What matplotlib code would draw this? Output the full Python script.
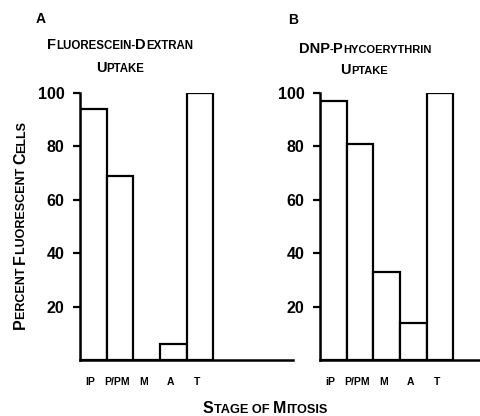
import matplotlib
matplotlib.use("Agg")
import matplotlib.pyplot as plt

# ---- data ----
stages = ["IP", "P/PM", "M", "A", "T"]
stage_labels_a = ["IP", "P/PM", "M", "A", "T"]
stage_labels_b = ["iP", "P/PM", "M", "A", "T"]
values_a = [94, 69, 0, 6, 100]
values_b = [97, 81, 33, 14, 100]
yticks = [20, 40, 60, 80, 100]
title_a = ["Fluorescein-Dextran", "Uptake"]
title_b = ["DNP-Phycoerythrin", "Uptake"]
ylabel = "Percent Fluorescent Cells"
xlabel = "Stage of Mitosis"

FONT = ["Liberation Sans", "DejaVu Sans"]
plt.rcParams["font.family"] = FONT

W, H = 480, 416
fig = plt.figure(figsize=(W / 100, H / 100), dpi=100)


def px(x, y):
    return x / W, 1 - y / H


ax_h = (360 - 93) / H
ax_w = (293 - 80) / W
axA = fig.add_axes([80 / W, 1 - 360 / H, ax_w, ax_h])
axB = fig.add_axes([320 / W, 1 - 360 / H, ax_w, ax_h])

for ax, vals, labs in [(axA, values_a, stage_labels_a), (axB, values_b, stage_labels_b)]:
    pos = [i + 0.5 for i in range(len(vals))]
    ax.bar(pos, vals, width=1.0, facecolor="white", edgecolor="black", linewidth=1.6)
    ax.set_xlim(0, 8)
    ax.set_ylim(0, 100)
    for s in ["top", "right"]:
        ax.spines[s].set_visible(False)
    for s in ["left", "bottom"]:
        ax.spines[s].set_linewidth(1.8)
    ax.set_yticks(yticks)
    ax.set_yticklabels([str(t) for t in yticks], fontsize=11.5, fontweight="bold")
    ax.tick_params(axis="y", length=5, width=1.6, pad=6, direction="out")
    ax.set_xticks([p - 0.1 for p in pos])
    ax.set_xticklabels(labs, fontsize=7.5, fontweight="bold")
    ax.tick_params(axis="x", length=0, pad=12)
    ax.patch.set_visible(False)

fig.canvas.draw()
renderer = fig.canvas.get_renderer()


def smallcaps(cx, cy, s, big, small, rotation=0, tracking=0.0):
    runs = []
    for ch in s:
        if ch.isupper():
            size, t = big, ch
        else:
            size, t = small, ch.upper()
        if runs and runs[-1][1] == size:
            runs[-1][0] += t
        else:
            runs.append([t, size])
    texts = []
    total = 0.0
    for t, size in runs:
        tx = fig.text(0, 0, t, fontsize=size, ha="left", va="baseline",
                      rotation=rotation, rotation_mode="anchor",
                      fontweight="bold")
        bb = tx.get_window_extent(renderer)
        w = (bb.width if rotation == 0 else bb.height) + tracking * len(t)
        texts.append((tx, w))
        total += w
    start = -total / 2
    for tx, w in texts:
        if rotation == 0:
            tx.set_position(px(cx + start, cy))
        else:
            tx.set_position(px(cx, cy - start))
        start += w


# panel letters
fig.text(*px(36, 23), "A", fontsize=10, fontweight="bold", ha="left", va="baseline")
fig.text(*px(288, 24), "B", fontsize=10, fontweight="bold", ha="left", va="baseline")

# titles
smallcaps(120, 49, title_a[0], 10.5, 8.3)
smallcaps(120, 72, title_a[1], 10.5, 8.3)
smallcaps(365, 53, title_b[0], 10.5, 8)
smallcaps(364, 74, title_b[1], 10.5, 8)

# axis labels
smallcaps(265, 413, xlabel, 11.5, 9.2)
smallcaps(25, 225, ylabel, 11.5, 9, rotation=90)

fig.savefig("out.png", dpi=100)
